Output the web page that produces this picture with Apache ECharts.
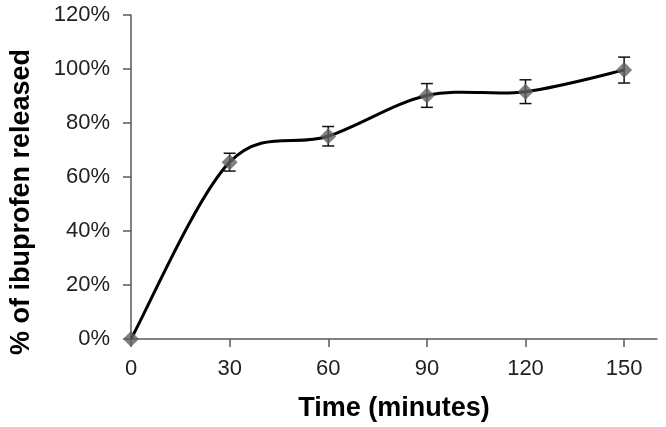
<!DOCTYPE html>
<html><head><meta charset="utf-8">
<script src="https://cdn.jsdelivr.net/npm/echarts@6/dist/echarts.min.js"></script>
<style>html,body{margin:0;padding:0;background:#fff}#c{width:666px;height:427px}</style>
</head><body><div id="c"></div>
<script>
const times = [0, 30, 60, 90, 120, 150];
const released = [0, 65.5, 75.1, 90.2, 91.6, 99.6];
const errors = [0, 3.3, 3.6, 4.4, 4.4, 4.8];
const xTicks = [0, 30, 60, 90, 120, 150];
const yTicks = [0, 20, 40, 60, 80, 100, 120];

const chart = echarts.init(document.getElementById('c'));
const lineData = times.map((t, i) => [t, released[i]]);
const errData = times.map((t, i) => [t, released[i] - errors[i], released[i] + errors[i]]);
const segData = times.slice(0, -1).map((t, i) => [i, t, released[i]]);
const font = 'Liberation Sans, Arial, sans-serif';
chart.setOption({
  animation: false,
  grid: {left: 128, right: 9, top: 15, bottom: 88},
  xAxis: {
    type: 'value', min: 0, max: 160, interval: 30,
    name: 'Time (minutes)', nameLocation: 'middle', nameGap: 56,
    nameTextStyle: {fontFamily: font, fontWeight: 'bold', fontSize: 27, color: '#000'},
    axisLine: {lineStyle: {color: '#595959', width: 1.5}},
    axisTick: {show: true, length: 8, inside: false, lineStyle: {color: '#595959', width: 1.5}, customValues: xTicks},
    axisLabel: {fontFamily: font, fontSize: 22, color: '#222', margin: 19, customValues: xTicks},
    splitLine: {show: false}
  },
  yAxis: {
    type: 'value', min: 0, max: 120, interval: 20,
    name: '% of ibuprofen released', nameLocation: 'middle', nameGap: 96,
    nameTextStyle: {fontFamily: font, fontWeight: 'bold', fontSize: 27, color: '#000', padding: [0, 50, 0, 0]},
    axisLine: {show: true, lineStyle: {color: '#595959', width: 1.5}},
    axisTick: {show: true, length: 8, lineStyle: {color: '#595959', width: 1.5}},
    axisLabel: {fontFamily: font, fontSize: 22, color: '#222', margin: 21, formatter: '{value}%', customValues: yTicks},
    splitLine: {show: false}
  },
  series: [
    {
      type: 'custom', z: 2,
      data: errData,
      renderItem: function (params, api) {
        const x = api.value(0);
        const lo = api.coord([x, api.value(1)]);
        const hi = api.coord([x, api.value(2)]);
        if (Math.abs(lo[1] - hi[1]) < 0.5) return null;
        const w = 6;
        const st = {stroke: '#111', lineWidth: 1.5};
        return {type: 'group', children: [
          {type: 'line', shape: {x1: lo[0], y1: lo[1], x2: hi[0], y2: hi[1]}, style: st},
          {type: 'line', shape: {x1: lo[0] - w, y1: lo[1], x2: lo[0] + w, y2: lo[1]}, style: st},
          {type: 'line', shape: {x1: hi[0] - w, y1: hi[1], x2: hi[0] + w, y2: hi[1]}, style: st}
        ]};
      }
    },
    {
      // Excel-style smoothed line (Catmull-Rom style Bezier through the data points)
      type: 'custom', z: 3,
      data: segData,
      encode: {x: 1, y: 2},
      renderItem: function (params, api) {
        const i = api.value(0);
        const n = times.length;
        const P = k => api.coord([times[Math.max(0, Math.min(n - 1, k))], released[Math.max(0, Math.min(n - 1, k))]]);
        const p0 = P(i - 1), p1 = P(i), p2 = P(i + 1), p3 = P(i + 2);
        const c1 = [p1[0] + (p2[0] - p0[0]) / 6, p1[1] + (p2[1] - p0[1]) / 6];
        const c2 = [p2[0] - (p3[0] - p1[0]) / 6, p2[1] - (p3[1] - p1[1]) / 6];
        return {
          type: 'bezierCurve',
          shape: {x1: p1[0], y1: p1[1], x2: p2[0], y2: p2[1], cpx1: c1[0], cpy1: c1[1], cpx2: c2[0], cpy2: c2[1]},
          style: {stroke: '#000', lineWidth: 3, fill: null}
        };
      }
    },
    {
      type: 'scatter', z: 4, data: lineData,
      symbol: 'diamond', symbolSize: 16,
      itemStyle: {color: '#606060'}
    }
  ]
});
</script></body></html>
